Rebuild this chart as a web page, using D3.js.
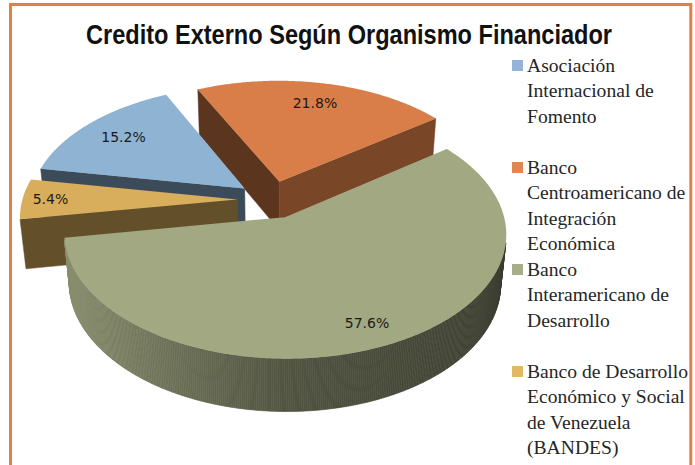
<!DOCTYPE html>
<html><head><meta charset="utf-8">
<script src="https://cdn.jsdelivr.net/npm/d3@7"></script>
<style>body{margin:0;background:#fff}svg{display:block}</style>
</head><body>
<svg id="chart" width="695" height="465"></svg>
<script>
// ---- data ----
const chartTitle = "Credito Externo Según Organismo Financiador";
const categories = [
  "Asociación Internacional de Fomento",
  "Banco Centroamericano de Integración Económica",
  "Banco Interamericano de Desarrollo",
  "Banco de Desarrollo Económico y Social de Venezuela (BANDES)"
];
const legendLines = [
  ["Asociación", "Internacional de", "Fomento"],
  ["Banco", "Centroamericano de", "Integración", "Económica"],
  ["Banco", "Interamericano de", "Desarrollo"],
  ["Banco de Desarrollo", "Económico y Social", "de Venezuela", "(BANDES)"]
];
const values = [15.2, 21.8, 57.6, 5.4];
const valueLabels = ["15.2%", "21.8%", "57.6%", "5.4%"];

// ---- styles / layout ----
const topColors = ["#8EB3D3", "#D97E48", "#A2A882", "#D8AE5C"];
const legendColors = ["#95B3D7", "#E2864C", "#A6AD88", "#E3B862"];
const labelRadius = [0.77, 0.78, 0.84, 0.87];
const firstSliceAngle = 280; // degrees, clockwise from 12 o'clock

const svg = d3.select("#chart");
svg.append("rect").attr("x", 10.5).attr("y", 4.5).attr("width", 680.3).attr("height", 480)
  .attr("fill", "#fff").attr("stroke", "#DF8146").attr("stroke-width", 3);

svg.append("text").attr("x", 349).attr("y", 44).attr("text-anchor", "middle")
  .attr("font-family", "'Liberation Sans', Arial, sans-serif").attr("font-weight", "bold")
  .attr("font-size", 27).attr("textLength", 526).attr("lengthAdjust", "spacingAndGlyphs")
  .attr("fill", "#111").text(chartTitle);

// ---- 3D projection ----
const P = {cx: 271.4, cy: 199.6, R: 215, elev: 33.4 * Math.PI / 180, D: 1392, h: 60, explode: 34};
const se = Math.sin(P.elev), ce = Math.cos(P.elev);
function proj(X, Y, Z) {
  const yc = Y * se - Z * ce;
  const q = Y * ce + Z * se;
  const s = P.D / (P.D - q);
  return [P.cx + X * s, P.cy + yc * s];
}
function area(pts) {
  let a = 0;
  for (let i = 0; i < pts.length; i++) {
    const p = pts[i], n = pts[(i + 1) % pts.length];
    a += p[0] * n[1] - n[0] * p[1];
  }
  return a / 2;
}
function shade(c, f) {
  const col = d3.rgb(c);
  return d3.rgb(col.r * f, col.g * f, col.b * f).formatHex();
}
function wallFactor(t) {
  const s = Math.sin(t);
  return s < 0 ? 0.5 + 0.36 * (-s) : 0.5 - 0.14 * s;
}
const poly = d3.line().curve(d3.curveLinearClosed);

const start = firstSliceAngle * Math.PI / 180;
const pie = d3.pie().sort(null).value(d => d).startAngle(start).endAngle(start + 2 * Math.PI);
const arcs = pie(values).map((a, i) => {
  const mid = (a.startAngle + a.endAngle) / 2;
  return {...a, i, mid, off: [P.explode * Math.sin(mid), -P.explode * Math.cos(mid)]};
});

const gPie = svg.append("g");
const order = arcs.slice().sort((a, b) => (-Math.cos(a.mid)) - (-Math.cos(b.mid)));

order.forEach(a => {
  const g = gPie.append("g");
  const base = topColors[a.i];
  const rimP = (t, Z) => proj(a.off[0] + P.R * Math.sin(t), a.off[1] - P.R * Math.cos(t), Z);
  const apexP = Z => proj(a.off[0], a.off[1], Z);
  // radial faces
  const faces = [
    {A: z => apexP(z), B: z => rimP(a.startAngle, z), n: a.startAngle - Math.PI / 2},
    {A: z => rimP(a.endAngle, z), B: z => apexP(z), n: a.endAngle + Math.PI / 2}
  ];
  faces.forEach(f => {
    const pts = [f.A(0), f.B(0), f.B(-P.h), f.A(-P.h)];
    if (area(pts) < 0) {
      const nx = Math.sin(f.n);
      const fac = 0.42 + 0.23 * Math.max(0, nx);
      g.append("path").attr("d", poly(pts)).attr("fill", shade(base, fac))
        .attr("stroke", shade(base, fac)).attr("stroke-width", 0.5);
    }
  });
  // outer wall
  const n = Math.ceil((a.endAngle - a.startAngle) / (0.5 * Math.PI / 180));
  const ts = d3.range(n + 1).map(k => a.startAngle + (a.endAngle - a.startAngle) * k / n);
  for (let k = 0; k < n; k++) {
    const t0 = ts[k], t1 = ts[k + 1];
    const pts = [rimP(t0, 0), rimP(t1, 0), rimP(t1, -P.h), rimP(t0, -P.h)];
    if (area(pts) < 0) {
      const c = shade(base, wallFactor((t0 + t1) / 2));
      g.append("path").attr("d", poly(pts)).attr("fill", c).attr("stroke", c).attr("stroke-width", 0.6);
    }
  }
  // top face
  const topPts = [apexP(0)].concat(ts.map(t => rimP(t, 0)));
  g.append("path").attr("d", poly(topPts)).attr("fill", base);
});

// value labels
arcs.forEach(a => {
  const r = P.R * labelRadius[a.i];
  const p = proj(a.off[0] + r * Math.sin(a.mid), a.off[1] - r * Math.cos(a.mid), 0);
  svg.append("text").attr("x", p[0]).attr("y", p[1]).attr("text-anchor", "middle")
    .attr("dominant-baseline", "central")
    .attr("font-family", "'DejaVu Sans', sans-serif").attr("font-size", 14)
    .attr("fill", "#1a1a1a").text(valueLabels[a.i]);
});

// legend
const lg = svg.append("g");
legendLines.forEach((lines, i) => {
  const y0 = 72 + i * 102;
  lg.append("rect").attr("x", 512).attr("y", y0 - 12).attr("width", 11).attr("height", 11)
    .attr("fill", legendColors[i]);
  lines.forEach((ln, j) => {
    lg.append("text").attr("x", 527).attr("y", y0 + j * 25.3)
      .attr("font-family", "'Liberation Serif', 'Times New Roman', serif").attr("font-size", 19.6)
      .attr("fill", "#262626").text(ln);
  });
});
</script>
</body></html>
